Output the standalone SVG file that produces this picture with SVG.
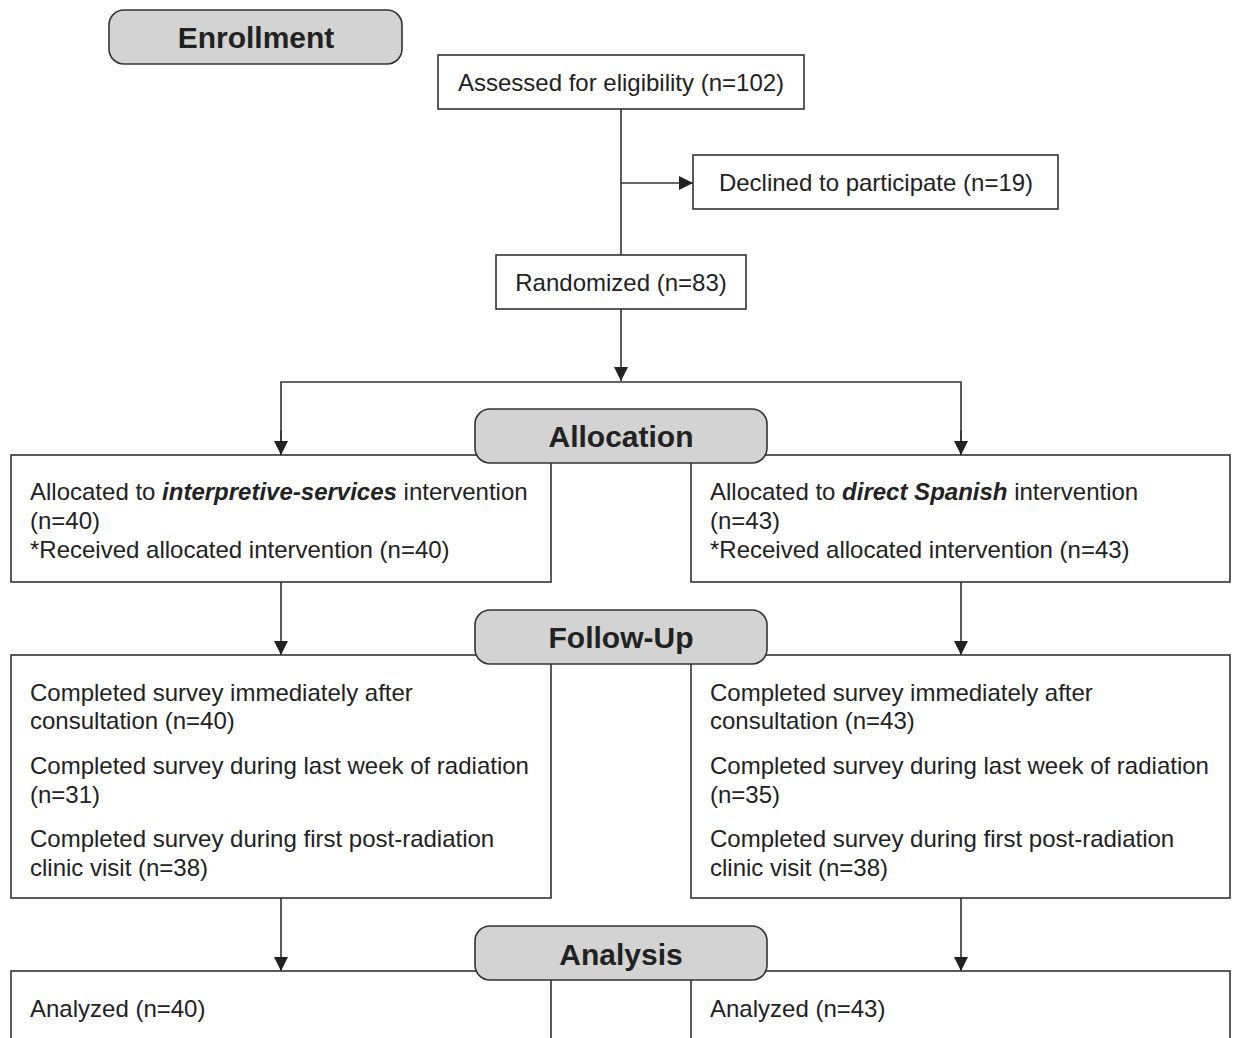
<svg xmlns="http://www.w3.org/2000/svg" width="1233" height="1038" viewBox="0 0 1233 1038">
<defs>
<marker id="arr" viewBox="0 0 10 10" refX="10" refY="5" markerWidth="14" markerHeight="14" markerUnits="userSpaceOnUse" orient="auto">
<path d="M0,0 L10,5 L0,10 z" fill="#222"/>
</marker>
<style>
.box{fill:#fff;stroke:#333;stroke-width:1.6}
.hdr{fill:#d3d3d3;stroke:#333;stroke-width:1.6}
.t{font-family:"Liberation Sans",Arial,sans-serif;font-size:24px;fill:#222}
.h{font-family:"Liberation Sans",Arial,sans-serif;font-size:30px;font-weight:bold;fill:#222;text-anchor:middle}
.c{text-anchor:middle}
.bi{font-weight:bold;font-style:italic}
.ln{fill:none;stroke:#333;stroke-width:1.6}
</style>
</defs>
<rect width="1233" height="1038" fill="#fff"/>
<g id="connectors">
<path class="ln" d="M621,109 V255"/>
<path class="ln" d="M621,183 H693" marker-end="url(#arr)"/>
<path class="ln" d="M621,309 V381" marker-end="url(#arr)"/>
<path class="ln" d="M281,455 V382 H961 V455" />
<path class="ln" d="M281,430 V455" marker-end="url(#arr)"/>
<path class="ln" d="M961,430 V455" marker-end="url(#arr)"/>
<path class="ln" d="M281,582 V655" marker-end="url(#arr)"/>
<path class="ln" d="M961,582 V655" marker-end="url(#arr)"/>
<path class="ln" d="M281,898 V971" marker-end="url(#arr)"/>
<path class="ln" d="M961,898 V971" marker-end="url(#arr)"/>
</g>
<g id="assessed"><rect class="box" x="438" y="55" width="366" height="54"/><text class="t c" x="621" y="91">Assessed for eligibility (n=102)</text></g>
<g id="declined"><rect class="box" x="693" y="155" width="365" height="54"/><text class="t c" x="876" y="191">Declined to participate (n=19)</text></g>
<g id="randomized"><rect class="box" x="496" y="255" width="250" height="54"/><text class="t c" x="621" y="291">Randomized (n=83)</text></g>
<g id="alloc-left"><rect class="box" x="11" y="455" width="540" height="127"/>
<text class="t" x="30" y="500">Allocated to <tspan class="bi">interpretive-services</tspan> intervention</text>
<text class="t" x="30" y="529">(n=40)</text>
<text class="t" x="30" y="558">*Received allocated intervention (n=40)</text></g>
<g id="alloc-right"><rect class="box" x="691" y="455" width="539" height="127"/>
<text class="t" x="710" y="500">Allocated to <tspan class="bi">direct Spanish</tspan> intervention</text>
<text class="t" x="710" y="529">(n=43)</text>
<text class="t" x="710" y="558">*Received allocated intervention (n=43)</text></g>
<g id="follow-left"><rect class="box" x="11" y="655" width="540" height="243"/>
<text class="t" x="30" y="701">Completed survey immediately after</text>
<text class="t" x="30" y="729">consultation (n=40)</text>
<text class="t" x="30" y="774">Completed survey during last week of radiation</text>
<text class="t" x="30" y="803">(n=31)</text>
<text class="t" x="30" y="847">Completed survey during first post-radiation</text>
<text class="t" x="30" y="876">clinic visit (n=38)</text></g>
<g id="follow-right"><rect class="box" x="691" y="655" width="539" height="243"/>
<text class="t" x="710" y="701">Completed survey immediately after</text>
<text class="t" x="710" y="729">consultation (n=43)</text>
<text class="t" x="710" y="774">Completed survey during last week of radiation</text>
<text class="t" x="710" y="803">(n=35)</text>
<text class="t" x="710" y="847">Completed survey during first post-radiation</text>
<text class="t" x="710" y="876">clinic visit (n=38)</text></g>
<g id="analysis-left"><rect class="box" x="11" y="971" width="540" height="100"/><text class="t" x="30" y="1017">Analyzed (n=40)</text></g>
<g id="analysis-right"><rect class="box" x="691" y="971" width="539" height="100"/><text class="t" x="710" y="1017">Analyzed (n=43)</text></g>
<g id="enrollment"><rect class="hdr" x="109" y="10" width="293" height="54" rx="15"/><text class="h" x="256" y="48">Enrollment</text></g>
<g id="allocation"><rect class="hdr" x="475" y="409" width="292" height="54" rx="15"/><text class="h" x="621" y="447">Allocation</text></g>
<g id="followup"><rect class="hdr" x="475" y="610" width="292" height="54" rx="15"/><text class="h" x="621" y="648">Follow-Up</text></g>
<g id="analysis"><rect class="hdr" x="475" y="926" width="292" height="54" rx="15"/><text class="h" x="621" y="965">Analysis</text></g>
</svg>
